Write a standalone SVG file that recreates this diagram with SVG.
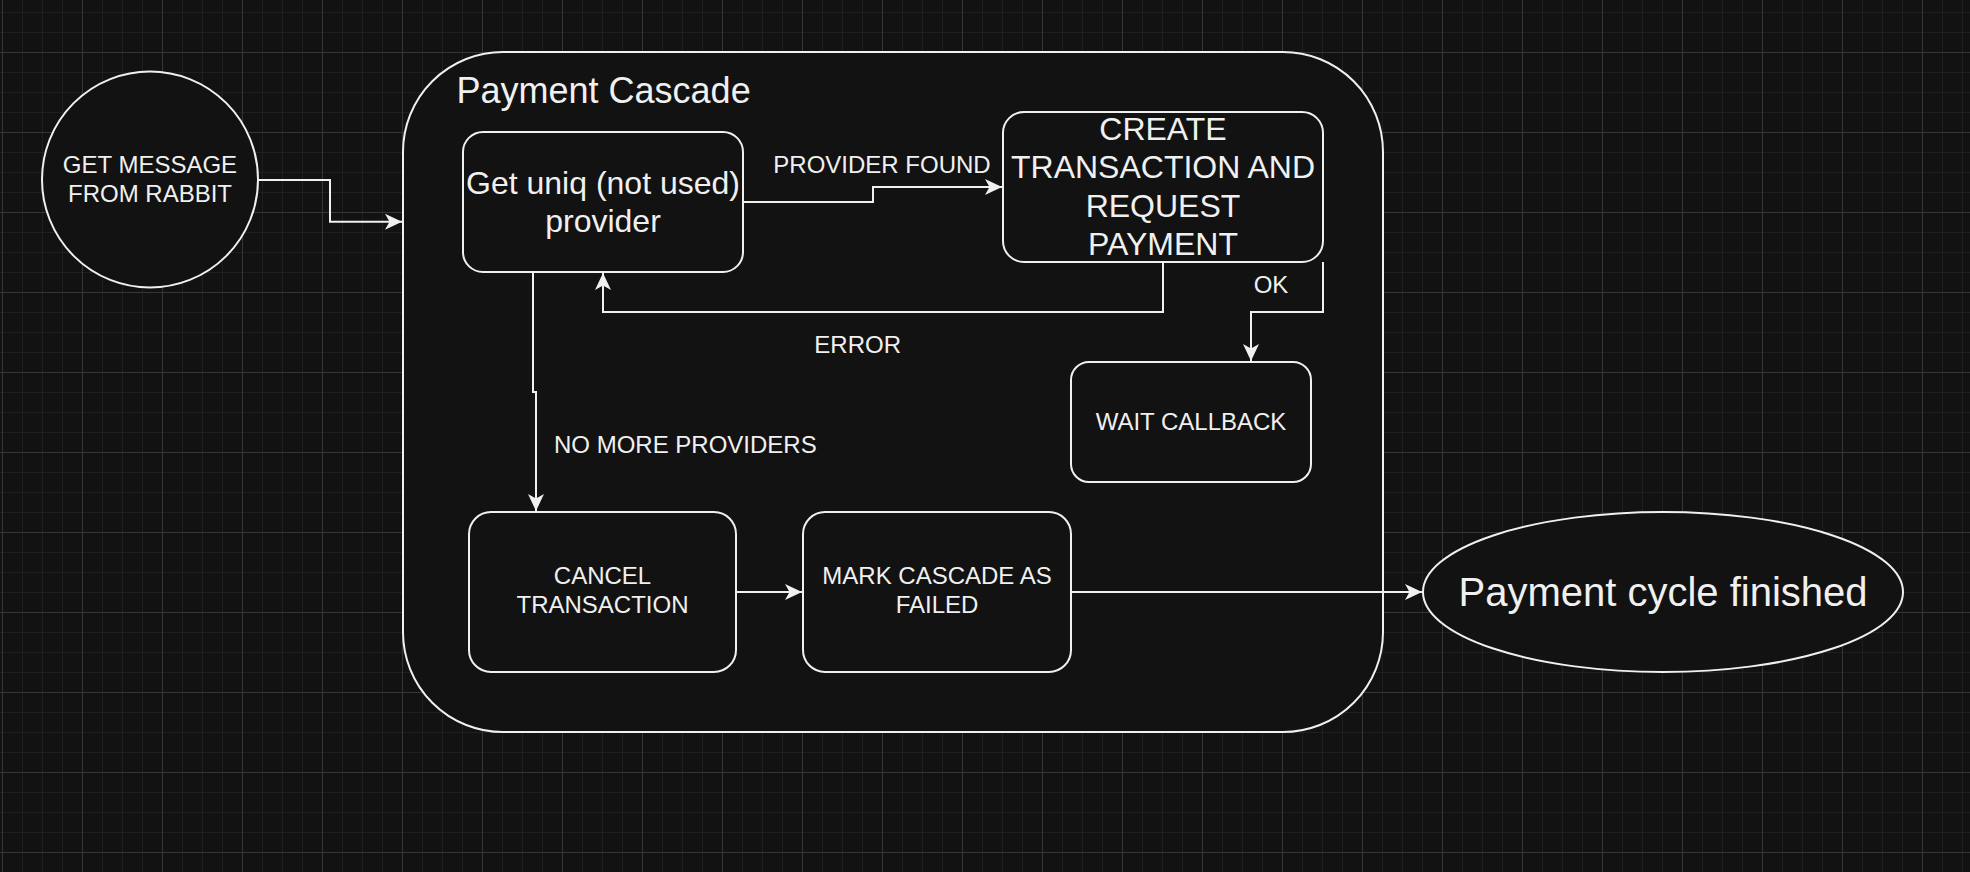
<svg xmlns="http://www.w3.org/2000/svg" width="1970" height="872" viewBox="0 0 1970 872">
  <style>
    .node { fill: #121212; stroke: #f0f0f0; stroke-width: 2; }
    .edge { fill: none; stroke: #f0f0f0; stroke-width: 2; }
    text { font-family: "Liberation Sans", Arial, Helvetica, sans-serif; fill: #f0f0f0; }
    .t24 { font-size: 24px; text-anchor: middle; }
    .t32 { font-size: 32px; text-anchor: middle; }
    .lbl { font-size: 24px; }
  </style>
  <defs>
    <pattern id="minor" x="2" y="12" width="20" height="20" patternUnits="userSpaceOnUse">
      <path d="M0.5,0 V20 M0,0.5 H20" stroke="#1f1f1f" stroke-width="1" fill="none"/>
    </pattern>
    <pattern id="major" x="2" y="52" width="80" height="80" patternUnits="userSpaceOnUse">
      <path d="M0.5,0 V80 M0,0.5 H80" stroke="#363636" stroke-width="1" fill="none"/>
    </pattern>
    <marker id="arrow" viewBox="-18 -9 19 18" markerWidth="19" markerHeight="18" refX="0" refY="0" orient="auto" markerUnits="userSpaceOnUse">
      <path d="M0,0 L-17,-8 L-12.5,0 L-17,8 Z" fill="#f0f0f0"/>
    </marker>
  </defs>

  <rect width="1970" height="872" fill="#121212"/>
  <rect width="1970" height="872" fill="url(#minor)"/>
  <rect width="1970" height="872" fill="url(#major)"/>

  <g id="container-payment-cascade">
    <rect class="node" x="403" y="52" width="980" height="680" rx="100" ry="100"/>
    <text x="456.5" y="103" style="font-size:36px">Payment Cascade</text>
  </g>

  <g id="node-get-message">
    <circle class="node" cx="150" cy="179.5" r="108"/>
    <text class="t24" x="150" y="172.7">GET MESSAGE</text>
    <text class="t24" x="150" y="201.5">FROM RABBIT</text>
  </g>

  <g id="node-get-provider">
    <rect class="node" x="463" y="132" width="280" height="140" rx="20" ry="20"/>
    <text class="t32" x="603" y="193.5">Get uniq (not used)</text>
    <text class="t32" x="603" y="232">provider</text>
  </g>

  <g id="node-create-transaction">
    <rect class="node" x="1003" y="112" width="320" height="150" rx="21" ry="21"/>
    <text class="t32" x="1163" y="140">CREATE</text>
    <text class="t32" x="1163" y="178.4">TRANSACTION AND</text>
    <text class="t32" x="1163" y="216.8">REQUEST</text>
    <text class="t32" x="1163" y="255.2">PAYMENT</text>
  </g>

  <g id="node-wait-callback">
    <rect class="node" x="1071" y="362" width="240" height="120" rx="18" ry="18"/>
    <text class="t24" x="1191" y="430">WAIT CALLBACK</text>
  </g>

  <g id="node-cancel-transaction">
    <rect class="node" x="469" y="512" width="267" height="160" rx="22" ry="22"/>
    <text class="t24" x="602.5" y="584.3">CANCEL</text>
    <text class="t24" x="602.5" y="613.3">TRANSACTION</text>
  </g>

  <g id="node-mark-failed">
    <rect class="node" x="803" y="512" width="268" height="160" rx="22" ry="22"/>
    <text class="t24" x="937" y="584.3">MARK CASCADE AS</text>
    <text class="t24" x="937" y="613.3">FAILED</text>
  </g>

  <g id="node-payment-finished">
    <ellipse class="node" cx="1663" cy="592" rx="240" ry="80"/>
    <text x="1663" y="606" style="font-size:40px;text-anchor:middle">Payment cycle finished</text>
  </g>

  <g id="connectors">
    <path class="edge" d="M258,180 H330 V221.7 H402" marker-end="url(#arrow)"/>
    <path class="edge" d="M743,202 H873 V187 H1002" marker-end="url(#arrow)"/>
    <path class="edge" d="M1163,262 V312 H603 V273" marker-end="url(#arrow)"/>
    <path class="edge" d="M1323,262 V312 H1251 V361" marker-end="url(#arrow)"/>
    <path class="edge" d="M533,272 V392 H536 V511" marker-end="url(#arrow)"/>
    <path class="edge" d="M736,592 H802" marker-end="url(#arrow)"/>
    <path class="edge" d="M1071,592 H1422" marker-end="url(#arrow)"/>
    <text class="lbl" x="882" y="173.3" text-anchor="middle">PROVIDER FOUND</text>
    <text class="lbl" x="857.7" y="353.3" text-anchor="middle">ERROR</text>
    <text class="lbl" x="1271" y="293.3" text-anchor="middle">OK</text>
    <text class="lbl" x="554" y="453.3">NO MORE PROVIDERS</text>
  </g>
</svg>
